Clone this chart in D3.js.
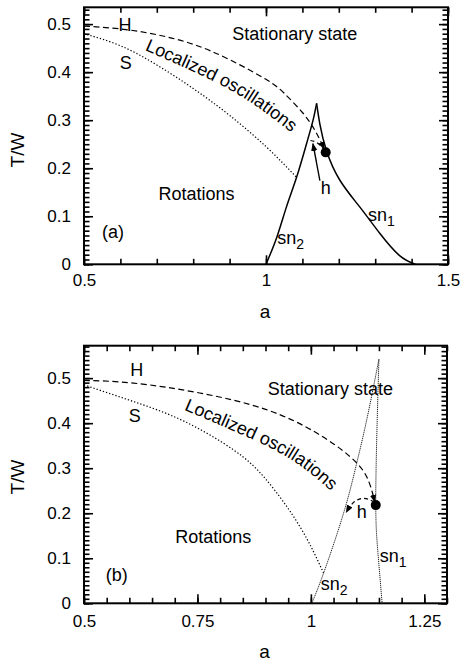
<!DOCTYPE html>
<html lang="en">
<head>
    <meta charset="UTF-8">
    <title>T/W vs a phase diagram</title>
    <script src="https://d3js.org/d3.v7.min.js"></script>
    <style>
        body {
            margin: 0;
            padding: 0;
            background-color: #fff;
        }
        svg {
            display: block;
            font-family: "Liberation Sans", Arial, sans-serif;
        }
        .tick text {
            font-size: 17px;
            fill: #000;
        }
        .label {
            font-size: 18px;
            fill: #000;
        }
        .title {
            font-size: 19px;
            fill: #000;
        }
    </style>
</head>
<body>
    <div id="chart"></div>

    <script>
        // ---- panel (a) data: [a, T/W] ----
        const hCurveA = [[0.5, 0.496], [0.6, 0.49], [0.7, 0.478], [0.8, 0.458], [0.9, 0.426], [1.0, 0.385], [1.05, 0.356], [1.1, 0.316], [1.135, 0.278], [1.16, 0.24]];
        const sCurveA = [[0.5, 0.48], [0.6, 0.455], [0.7, 0.415], [0.8, 0.366], [0.9, 0.31], [1.0, 0.245], [1.084, 0.181]];
        const sn2A = [[1.0, 0.0], [1.03, 0.057], [1.056, 0.119], [1.084, 0.181], [1.111, 0.25], [1.129, 0.299], [1.139, 0.335]];
        const sn1A = [[1.139, 0.335], [1.148, 0.292], [1.166, 0.237], [1.203, 0.175], [1.258, 0.119], [1.313, 0.064], [1.367, 0.018], [1.41, 0.0]];
        const hLoopA = [[1.162, 0.237], [1.14, 0.253], [1.12, 0.258]];
        const dotA = [1.164, 0.233];
        const hArrowA = [[1.148, 0.174], [1.129, 0.251]];
        const textPathA = [[0.666, 0.446], [0.818, 0.395], [0.956, 0.338], [1.09, 0.262]];

        // ---- panel (b) data ----
        const hCurveB = [[0.5, 0.495], [0.609, 0.489], [0.755, 0.467], [0.902, 0.43], [1.013, 0.378], [1.086, 0.326], [1.123, 0.281], [1.141, 0.225]];
        const sCurveB = [[0.5, 0.485], [0.609, 0.448], [0.719, 0.405], [0.829, 0.341], [0.902, 0.274], [0.976, 0.17], [1.028, 0.067]];
        const sn2B = [[1.002, 0.0], [1.028, 0.067], [1.072, 0.2], [1.101, 0.311], [1.123, 0.407], [1.15, 0.542]];
        const sn1B = [[1.15, 0.542], [1.146, 0.4], [1.143, 0.218], [1.148, 0.11], [1.157, 0.0]];
        const hLoopB = [[1.14, 0.225], [1.115, 0.233], [1.092, 0.222], [1.078, 0.202]];
        const dotB = [1.143, 0.218];
        const textPathB = [[0.72, 0.43], [0.873, 0.363], [0.976, 0.306], [1.068, 0.228]];

        // ---- axes ----
        const xTicksA = [0.5, 1, 1.5];
        const xTicksB = [0.5, 0.75, 1, 1.25];
        const yTicks = [0, 0.1, 0.2, 0.3, 0.4, 0.5];

        // ---- text labels ----
        const labelsA = [
            {text: 'H', a: 0.6125, v: 0.499},
            {text: 'S', a: 0.615, v: 0.42},
            {text: 'Stationary state', a: 1.079, v: 0.48},
            {text: 'Rotations', a: 0.809, v: 0.147},
            {text: '(a)', a: 0.58, v: 0.0675},
            {text: 'h', a: 1.164, v: 0.159}
        ];
        const subLabelsA = [
            {text: 'sn', sub: '2', a: 1.031, v: 0.049},
            {text: 'sn', sub: '1', a: 1.28, v: 0.097}
        ];
        const labelsB = [
            {text: 'H', a: 0.616, v: 0.518},
            {text: 'S', a: 0.612, v: 0.418},
            {text: 'Stationary state', a: 1.043, v: 0.478},
            {text: 'Rotations', a: 0.785, v: 0.148},
            {text: '(b)', a: 0.572, v: 0.063},
            {text: 'h', a: 1.112, v: 0.204}
        ];
        const subLabelsB = [
            {text: 'sn', sub: '2', a: 1.022, v: 0.037},
            {text: 'sn', sub: '1', a: 1.152, v: 0.1}
        ];
        const curvedLabel = 'Localized oscillations';

        const W = 461, H = 662;
        const svg = d3.select('#chart').append('svg')
            .attr('width', W)
            .attr('height', H);

        // arrow head marker
        svg.append('defs').append('marker')
            .attr('id', 'arrow')
            .attr('viewBox', '0 0 10 10')
            .attr('refX', 9)
            .attr('refY', 5)
            .attr('markerWidth', 8)
            .attr('markerHeight', 8)
            .attr('markerUnits', 'userSpaceOnUse')
            .attr('orient', 'auto')
            .append('path')
            .attr('d', 'M0,1 L10,5 L0,9 Z')
            .attr('fill', '#000');

        const panels = [
            {
                id: 'a', left: 84, right: 448, top: 7.3, bottom: 264.3,
                xDomain: [0.5, 1.5], yDomain: [0, 0.535],
                xTicks: xTicksA, xMinorStep: 0.1,
                hCurve: hCurveA, sCurve: sCurveA, sn1: sn1A, sn2: sn2A,
                hLoop: hLoopA, dot: dotA, hArrow: hArrowA, textPath: textPathA,
                labels: labelsA, subLabels: subLabelsA,
                snSolid: true, xPad: 10, yTitle: 150, xTitle: 318
            },
            {
                id: 'b', left: 84, right: 447, top: 345.7, bottom: 603.3,
                xDomain: [0.5, 1.3], yDomain: [0, 0.572],
                xTicks: xTicksB, xMinorStep: 0.05,
                hCurve: hCurveB, sCurve: sCurveB, sn1: sn1B, sn2: sn2B,
                hLoop: hLoopB, dot: dotB, hArrow: null, textPath: textPathB,
                labels: labelsB, subLabels: subLabelsB,
                snSolid: false, xPad: 12, yTitle: 477, xTitle: 658
            }
        ];

        panels.forEach(p => drawPanel(p));

        function drawPanel(p) {
            const x = d3.scaleLinear().domain(p.xDomain).range([p.left, p.right]);
            const y = d3.scaleLinear().domain(p.yDomain).range([p.bottom, p.top]);
            const g = svg.append('g');

            const xMinor = d3.range(p.xDomain[0], p.xDomain[1] + 1e-9, p.xMinorStep)
                .map(d => +d.toFixed(3));
            const yMinor = d3.range(0, p.yDomain[1] + 1e-9, 0.01).map(d => +d.toFixed(3));

            // minor ticks on all four sides (inward)
            const minorAxes = [
                [d3.axisBottom(x).tickValues(xMinor), p.bottom, 'y'],
                [d3.axisTop(x).tickValues(xMinor), p.top, 'y'],
                [d3.axisLeft(y).tickValues(yMinor), p.left, 'x'],
                [d3.axisRight(y).tickValues(yMinor), p.right, 'x']
            ];
            minorAxes.forEach(([ax, pos, dir]) => {
                const sel = g.append('g')
                    .attr('transform', dir === 'y' ? `translate(0,${pos})` : `translate(${pos},0)`)
                    .call(ax.tickSize(-5.5).tickFormat(() => ''));
                sel.select('.domain').remove();
                sel.selectAll('line').attr('stroke', '#000').attr('stroke-width', 1.6);
            });

            // major ticks with labels
            const xAxis = g.append('g')
                .attr('transform', `translate(0,${p.bottom})`)
                .call(d3.axisBottom(x).tickValues(p.xTicks).tickSize(-9).tickPadding(p.xPad)
                    .tickFormat(d => String(d)));
            const yAxis = g.append('g')
                .attr('transform', `translate(${p.left},0)`)
                .call(d3.axisLeft(y).tickValues(yTicks).tickSize(-9).tickPadding(13)
                    .tickFormat(d => String(d)));
            const yAxisR = g.append('g')
                .attr('transform', `translate(${p.right},0)`)
                .call(d3.axisRight(y).tickValues(yTicks).tickSize(-9).tickFormat(() => ''));
            const xAxisT = g.append('g')
                .attr('transform', `translate(0,${p.top})`)
                .call(d3.axisTop(x).tickValues(p.xTicks).tickSize(-9).tickFormat(() => ''));
            [xAxis, yAxis, yAxisR, xAxisT].forEach(a => {
                a.select('.domain').remove();
                a.selectAll('line').attr('stroke', '#000').attr('stroke-width', 1.6);
                a.selectAll('text').attr('font-family', null).attr('font-size', null);
            });

            // frame
            g.append('rect')
                .attr('x', p.left).attr('y', p.top)
                .attr('width', p.right - p.left).attr('height', p.bottom - p.top)
                .attr('fill', 'none').attr('stroke', '#000').attr('stroke-width', 2);

            // axis titles
            g.append('text').attr('class', 'title')
                .attr('transform', `translate(24,${p.yTitle}) rotate(-90)`)
                .attr('text-anchor', 'middle')
                .text('T/W');
            g.append('text').attr('class', 'title')
                .attr('x', (p.left + p.right) / 2 - 1)
                .attr('y', p.xTitle)
                .attr('text-anchor', 'middle')
                .text('a');

            const lineN = d3.line().x(d => x(d[0])).y(d => y(d[1])).curve(d3.curveNatural);

            // H (Hopf) dashed, ends with arrow into the dot
            g.append('path').attr('d', lineN(p.hCurve))
                .attr('fill', 'none').attr('stroke', '#000').attr('stroke-width', 1.2)
                .attr('stroke-dasharray', '6,3.5')
                .attr('marker-end', 'url(#arrow)');

            // S dotted
            g.append('path').attr('d', lineN(p.sCurve))
                .attr('fill', 'none').attr('stroke', '#000').attr('stroke-width', 1.2)
                .attr('stroke-dasharray', '1.3,2');

            // saddle-node curves
            [p.sn1, p.sn2].forEach(c => {
                g.append('path').attr('d', lineN(c))
                    .attr('fill', 'none').attr('stroke', p.snSolid ? '#000' : '#222')
                    .attr('stroke-width', p.snSolid ? 1.5 : 1)
                    .attr('stroke-dasharray', p.snSolid ? null : '1.2,0.8');
            });

            // homoclinic h
            g.append('path').attr('d', lineN(p.hLoop))
                .attr('fill', 'none').attr('stroke', '#000').attr('stroke-width', 1.2)
                .attr('stroke-dasharray', '4,3')
                .attr('marker-end', p.hArrow ? null : 'url(#arrow)');

            if (p.hArrow) {
                g.append('path').attr('d', d3.line().x(d => x(d[0])).y(d => y(d[1]))(p.hArrow))
                    .attr('fill', 'none').attr('stroke', '#000').attr('stroke-width', 1.4)
                    .attr('marker-end', 'url(#arrow)');
            }

            // Bogdanov-Takens point
            g.append('circle')
                .attr('cx', x(p.dot[0])).attr('cy', y(p.dot[1]))
                .attr('r', 5).attr('fill', '#000');

            // curved "Localized oscillations" label, one glyph at a time along a guide path
            const guide = g.append('path').attr('d', lineN(p.textPath))
                .attr('fill', 'none').attr('stroke', 'none').node();
            let offset = 0;
            curvedLabel.split('').forEach(ch => {
                const t = g.append('text').attr('class', 'label')
                    .attr('text-anchor', 'middle')
                    .text(ch === ' ' ? '\u00a0' : ch);
                const w = t.node().getComputedTextLength();
                const mid = offset + w / 2;
                const p0 = guide.getPointAtLength(Math.max(mid - 1, 0));
                const p1 = guide.getPointAtLength(mid + 1);
                const pm = guide.getPointAtLength(mid);
                const ang = Math.atan2(p1.y - p0.y, p1.x - p0.x) * 180 / Math.PI;
                t.attr('transform', `translate(${pm.x},${pm.y}) rotate(${ang})`);
                if (ch === ' ') t.remove();
                offset += w;
            });

            // plain labels
            g.selectAll('.plain')
                .data(p.labels)
                .enter()
                .append('text')
                .attr('class', 'label')
                .attr('x', d => x(d.a))
                .attr('y', d => y(d.v))
                .attr('dy', '0.36em')
                .attr('text-anchor', 'middle')
                .text(d => d.text);

            // labels with subscript
            const sl = g.selectAll('.sub')
                .data(p.subLabels)
                .enter()
                .append('text')
                .attr('class', 'label')
                .attr('x', d => x(d.a))
                .attr('y', d => y(d.v))
                .attr('dy', '0.2em');
            sl.append('tspan').text(d => d.text);
            sl.append('tspan').attr('dy', '0.35em').attr('font-size', '14px').text(d => d.sub);
        }
    </script>
</body>
</html>
